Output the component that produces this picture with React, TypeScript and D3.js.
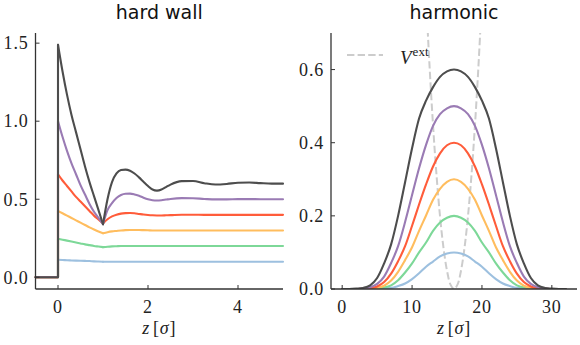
import React from 'react';
import * as d3 from 'd3';

const W = 580, H = 345;

// ---- hard wall panel: density profiles rho(z) for bulk densities 0.1 ... 0.6
const zWall = [0, 0.1, 0.2, 0.3, 0.4, 0.5, 0.6, 0.7, 0.8, 0.9, 1.0,
  1.1, 1.2, 1.3, 1.4, 1.5, 1.6, 1.7, 1.8, 1.9, 2.0, 2.1, 2.2, 2.3, 2.4, 2.5,
  2.75, 3.0, 3.25, 3.5, 3.75, 4.0, 4.25, 4.5, 4.75, 5.0];

const wall01 = [0.112, 0.111, 0.109, 0.108, 0.107, 0.106, 0.105, 0.104, 0.102, 0.101, 0.100,
  0.100, 0.100, 0.100, 0.100, 0.100, 0.100, 0.100, 0.100, 0.100, 0.100, 0.100, 0.100, 0.100, 0.100, 0.100,
  0.100, 0.100, 0.100, 0.100, 0.100, 0.100, 0.100, 0.100, 0.100, 0.100];
const wall02 = [0.247, 0.241, 0.235, 0.229, 0.223, 0.217, 0.211, 0.206, 0.201, 0.197, 0.193,
  0.196, 0.198, 0.199, 0.200, 0.200, 0.200, 0.200, 0.200, 0.200, 0.200, 0.200, 0.200, 0.200, 0.200, 0.200,
  0.200, 0.200, 0.200, 0.200, 0.200, 0.200, 0.200, 0.200, 0.200, 0.200];
const wall03 = [0.425, 0.41, 0.395, 0.38, 0.365, 0.35, 0.335, 0.32, 0.306, 0.293, 0.282,
  0.289, 0.294, 0.297, 0.300, 0.302, 0.303, 0.303, 0.303, 0.302, 0.301, 0.300, 0.300, 0.300, 0.300, 0.300,
  0.300, 0.300, 0.300, 0.300, 0.300, 0.300, 0.300, 0.300, 0.300, 0.300];
const wall04 = [0.66, 0.62, 0.585, 0.55, 0.515, 0.485, 0.455, 0.425, 0.395, 0.37, 0.345,
  0.372, 0.39, 0.401, 0.408, 0.411, 0.412, 0.41, 0.406, 0.402, 0.399, 0.397, 0.396, 0.396, 0.397, 0.398,
  0.401, 0.401, 0.400, 0.400, 0.400, 0.400, 0.400, 0.400, 0.400, 0.400];
const wall05 = [1.0, 0.90, 0.81, 0.73, 0.66, 0.59, 0.53, 0.47, 0.42, 0.38, 0.34,
  0.43, 0.475, 0.508, 0.527, 0.535, 0.536, 0.531, 0.522, 0.51, 0.50, 0.494, 0.492, 0.494, 0.498, 0.502,
  0.507, 0.506, 0.502, 0.499, 0.499, 0.501, 0.501, 0.500, 0.500, 0.500];
const wall06 = [1.49, 1.32, 1.17, 1.04, 0.93, 0.82, 0.71, 0.61, 0.52, 0.43, 0.34,
  0.50, 0.61, 0.665, 0.687, 0.69, 0.683, 0.665, 0.64, 0.612, 0.585, 0.562, 0.555, 0.562, 0.578, 0.594,
  0.616, 0.617, 0.603, 0.594, 0.598, 0.606, 0.607, 0.603, 0.600, 0.600];

// ---- harmonic trap panel
const zTrap = d3.range(0, 33); // sample positions 0..32
const trap01 = [0, 0, 0, 0, 0, 0.001, 0.002, 0.003, 0.008, 0.015, 0.027, 0.043, 0.061, 0.075, 0.089, 0.097, 0.100,
  0.097, 0.089, 0.075, 0.061, 0.043, 0.027, 0.015, 0.008, 0.003, 0.002, 0.001, 0, 0, 0, 0, 0];
const trap02 = [0, 0, 0, 0, 0.001, 0.002, 0.004, 0.010, 0.024, 0.045, 0.070, 0.100, 0.127, 0.159, 0.182, 0.195, 0.200,
  0.195, 0.182, 0.159, 0.127, 0.100, 0.070, 0.045, 0.024, 0.010, 0.004, 0.002, 0.001, 0, 0, 0, 0];
const trap03 = [0, 0, 0, 0, 0.001, 0.003, 0.009, 0.023, 0.047, 0.079, 0.114, 0.159, 0.201, 0.244, 0.274, 0.293, 0.300,
  0.293, 0.274, 0.244, 0.201, 0.159, 0.114, 0.079, 0.047, 0.023, 0.009, 0.003, 0.001, 0, 0, 0, 0];
const trap04 = [0, 0, 0, 0.001, 0.002, 0.007, 0.019, 0.042, 0.076, 0.117, 0.173, 0.231, 0.286, 0.335, 0.371, 0.393, 0.400,
  0.393, 0.371, 0.335, 0.286, 0.231, 0.173, 0.117, 0.076, 0.042, 0.019, 0.007, 0.002, 0.001, 0, 0, 0];
const trap05 = [0, 0, 0, 0.002, 0.005, 0.014, 0.034, 0.071, 0.117, 0.183, 0.257, 0.330, 0.394, 0.446, 0.478, 0.494, 0.500,
  0.494, 0.478, 0.446, 0.394, 0.330, 0.257, 0.183, 0.117, 0.071, 0.034, 0.014, 0.005, 0.002, 0, 0, 0];
const trap06 = [0, 0, 0.001, 0.003, 0.010, 0.030, 0.070, 0.122, 0.200, 0.292, 0.385, 0.466, 0.515, 0.552, 0.580, 0.595, 0.600,
  0.595, 0.580, 0.552, 0.515, 0.466, 0.385, 0.292, 0.200, 0.122, 0.070, 0.030, 0.010, 0.003, 0.001, 0, 0];

// external potential (dashed)
const zPot = [12, 12.5, 13, 13.5, 14, 14.5, 15, 15.5, 16, 16.5, 17, 17.5, 18, 18.5, 19, 19.5, 20];
const vPot = [0.797, 0.610, 0.448, 0.311, 0.199, 0.112, 0.050, 0.012, 0, 0.012, 0.050, 0.112, 0.199, 0.311, 0.448, 0.610, 0.797];

const colors = ['#9dc0df', '#7dd898', '#ffbd5e', '#ff5c3a', '#9a7bb4', '#4d4d4d'];
const wallSeries = [wall01, wall02, wall03, wall04, wall05, wall06];
const trapSeries = [trap01, trap02, trap03, trap04, trap05, trap06];

const wallTicksX = [0, 2, 4];
const wallTicksY = [0, 0.5, 1.0, 1.5];
const trapTicksX = [0, 10, 20, 30];
const trapTicksY = [0, 0.2, 0.4, 0.6];

const axisColor = '#333';
const serif = { fontFamily: 'Liberation Serif, serif', letterSpacing: '0.8px' };
const sans = { fontFamily: 'DejaVu Sans, sans-serif' };

const Axes = ({ x, y, xt, yt, fmtX, title }) => {
  const [x0, x1] = x.range();
  const [y0, y1] = y.range();
  const cx = (x0 + x1) / 2;
  return (
    <g>
      <line x1={x0} x2={x1} y1={y0} y2={y0} stroke={axisColor} strokeWidth={1.3} />
      <line x1={x0} x2={x0} y1={y0} y2={y1} stroke={axisColor} strokeWidth={1.3} />
      {xt.map(t => (
        <g key={'x' + t}>
          <line x1={x(t)} x2={x(t)} y1={y0} y2={y0 - 4} stroke={axisColor} strokeWidth={1} />
          <text x={x(t)} y={y0 + 24} textAnchor="middle" style={serif} fontSize={18} fill="#222">{fmtX(t)}</text>
        </g>
      ))}
      {yt.map(t => (
        <g key={'y' + t}>
          <line x1={x0} x2={x0 + 4} y1={y(t)} y2={y(t)} stroke={axisColor} strokeWidth={1} />
          <text x={x0 - 7} y={y(t)} dy="0.35em" textAnchor="end" style={serif} fontSize={18} fill="#222">{d3.format('.1f')(t)}</text>
        </g>
      ))}
      <text x={cx} y={334} textAnchor="middle" style={serif} fontSize={18} fill="#222">
        <tspan fontStyle="italic">z</tspan>
        <tspan dx={3}>[</tspan>
        <tspan fontStyle="italic">σ</tspan>
        <tspan>]</tspan>
      </text>
      <text x={cx} y={19} textAnchor="middle" style={sans} fontSize={19} fill="#111">{title}</text>
    </g>
  );
};

export default function App() {
  const xL = d3.scaleLinear().domain([-0.5, 5]).range([35.5, 283]);
  const yL = d3.scaleLinear().domain([-0.075, 1.565]).range([289, 33]);
  const xR = d3.scaleLinear().domain([-1.6, 33.6]).range([331, 577]);
  const yR = d3.scaleLinear().domain([0, 0.7]).range([289, 33]);

  const kink = zWall.indexOf(1.0);
  const stepLine = d3.line<[number, number]>().x(d => xL(d[0])).y(d => yL(d[1]));
  const trapLine = d3.line<number>().x((_, i) => xR(zTrap[i])).y(v => yR(v)).curve(d3.curveMonotoneX);
  const potLine = d3.line<number>().x((_, i) => xR(zPot[i])).y(v => yR(v)).curve(d3.curveCatmullRom);

  const segPath = (vals: number[], from: number, to: number) =>
    d3.line<number>()
      .x((_, i) => xL(zWall[from + i]))
      .y(v => yL(v))
      .curve(d3.curveMonotoneX)(vals.slice(from, to + 1));

  return (
    <svg width={W} height={H} style={{ position: 'absolute', left: 0, top: 0, background: '#fff' }}>
      <defs>
        <clipPath id="clipR">
          <rect x={331} y={33} width={246} height={256} />
        </clipPath>
      </defs>

      {/* hard wall */}
      <g fill="none" strokeWidth={2.1} strokeLinecap="round" strokeLinejoin="round">
        {wallSeries.map((s, k) => (
          <g key={k} stroke={colors[k]}>
            <path d={stepLine([[-0.5, 0], [0, 0], [0, s[0]]]) || ''} />
            <path d={segPath(s, 0, kink) || ''} />
            <path d={segPath(s, kink, s.length - 1) || ''} />
          </g>
        ))}
      </g>
      <Axes x={xL} y={yL} xt={wallTicksX} yt={wallTicksY} fmtX={d3.format('d')} title="hard wall" />

      {/* harmonic */}
      <g clipPath="url(#clipR)" fill="none">
        <path d={potLine(vPot) || ''} stroke="#cccccc" strokeWidth={2} strokeDasharray="7.4 3.2" />
        {trapSeries.map((s, k) => (
          <path key={k} d={trapLine(s) || ''} stroke={colors[k]} strokeWidth={2.1} strokeLinecap="round" />
        ))}
      </g>
      <Axes x={xR} y={yR} xt={trapTicksX} yt={trapTicksY} fmtX={d3.format('d')} title="harmonic" />

      {/* legend */}
      <line x1={347} x2={383} y1={55} y2={55} stroke="#cccccc" strokeWidth={2} strokeDasharray="7.4 3.2" />
      <text x={400} y={64} style={{ fontFamily: 'Liberation Serif, serif' }} fontSize={19} fill="#222">
        <tspan fontStyle="italic">V</tspan>
        <tspan fontSize={13} dx={1} dy={-8}>ext</tspan>
      </text>
    </svg>
  );
}
